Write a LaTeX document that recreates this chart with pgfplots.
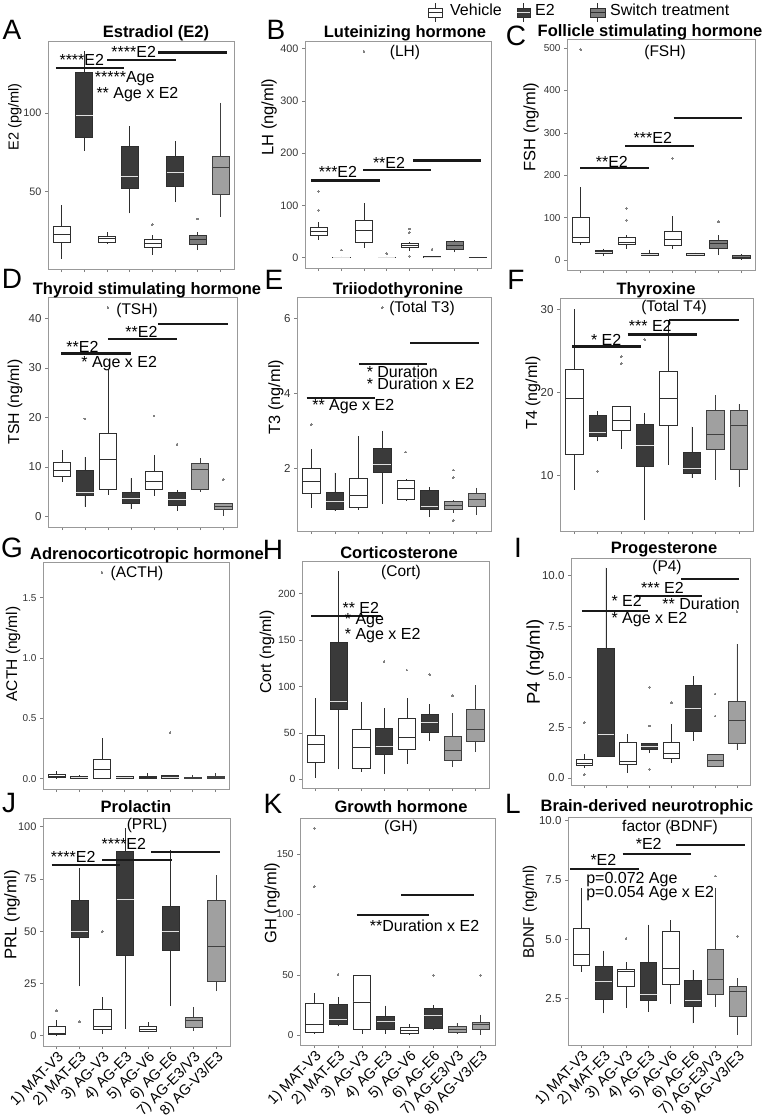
\documentclass[border=0pt]{standalone}
\usepackage{fontspec}
\setmainfont{Liberation Sans}
\usepackage{pgfplots}
\pgfplotsset{compat=1.18}
\usepgfplotslibrary{statistics}
\definecolor{eFill}{HTML}{3A3A3A}
\definecolor{sFill}{HTML}{A0A0A0}
\definecolor{sFillD}{HTML}{7C7C7C}
\definecolor{bDraw}{HTML}{2E2E2E}
\newcommand\fs[1]{\fontsize{#1}{#1}\selectfont}
\pgfplotsset{
  B/.style n args={6}{boxplot prepared={draw position=#1, lower whisker=#2, lower quartile=#3, median=#4, upper quartile=#5, upper whisker=#6}},
  outl/.style={mark=*, mark size=0.9pt, mark options={draw=black!50, fill=black!50, line width=0pt}},
  veh/.style={draw=bDraw, fill=white, line width=0.6pt, outl, boxplot/every box/.style={fill=white}, boxplot/every median/.style={draw=bDraw, line width=0.7pt}},
  est/.style={draw=bDraw, fill=eFill, line width=0.6pt, outl, boxplot/every box/.style={fill=eFill}, boxplot/every median/.style={draw=black!12, line width=0.7pt}},
  sw/.style={draw=black!75, fill=sFill, line width=0.6pt, outl, boxplot/every box/.style={fill=sFill}, boxplot/every median/.style={draw=black!75, line width=0.7pt}},
  swd/.style={draw=black!80, fill=sFillD, line width=0.6pt, outl, boxplot/every box/.style={fill=sFillD}, boxplot/every median/.style={draw=black!80, line width=0.7pt}},
  panel/.style={scale only axis, anchor=south west, xmin=0.4, xmax=8.6, xtick={1,...,8}, xticklabels={},
    tick align=outside, major tick length=3pt, tick pos=left,
    axis line style={draw=black!40, line width=0.7pt}, tick style={draw=black!50, line width=0.6pt},
    clip=false, boxplot/draw direction=y, boxplot/box extend=0.75, boxplot/whisker extend=0,
    yticklabel style={text=black!80}},
  tl/.style={yticklabel style={font=\fs{#1}}},
  bottomrow/.style={xticklabels={1) MAT-V3,2) MAT-E3,3) AG-V3,4) AG-E3,5) AG-V6,6) AG-E6,7) AG-E3/V3,8) AG-V3/E3},
    xticklabel style={rotate=45, anchor=north east, font=\fs{14.5}, inner sep=1pt, text=black}},
}
\tikzset{sig/.style={line width=2.1pt, black!90},
  ann/.style={anchor=west, inner sep=0pt, font=\fs{16}},
  ttl/.style={font=\fs{16.5}\bfseries, inner sep=0pt},
  sub/.style={font=\fs{15.5}, inner sep=0pt},
  lett/.style={font=\fs{28}, inner sep=0pt},
  ylab/.style={rotate=90, inner sep=0pt}}
\begin{document}
\begin{tikzpicture}
% ---------------- A ----------------
\begin{axis}[panel, tl=10.8, at={(48pt,-269pt)}, width=186pt, height=228pt, ymin=0.8, ymax=145.6, ytick={50,100}, yticklabels={50,100}]
\addplot[veh, B={1}{7.4}{17.7}{22.8}{28}{41.5}] coordinates {};
\addplot[est, B={2}{76}{84.5}{98.5}{125.5}{139}] coordinates {};
\addplot[veh, B={3}{16.6}{17.7}{20}{21.7}{24}] coordinates {};
\addplot[est, B={4}{36.2}{52}{59.6}{78.7}{91.5}] coordinates {};
\addplot[veh, B={5}{10}{14.3}{17}{19.6}{22.3}] coordinates {(5,29)};
\addplot[est, B={6}{43.2}{53.6}{62.3}{72.3}{82}] coordinates {};
\addplot[swd, B={7}{12.8}{16.6}{19.6}{22.5}{24}] coordinates {(7,32.6)};
\addplot[sw, B={8}{34}{48.5}{65.5}{72.3}{106.4}] coordinates {};
\draw[sig] (axis cs:0.75,128.7) -- (axis cs:3.77,128.7);
\draw[sig] (axis cs:3.01,133.4) -- (axis cs:6.03,133.4);
\draw[sig] (axis cs:5.27,138.3) -- (axis cs:8.29,138.3);
\node[ann] at (axis cs:0.9,133.6) {****E2};
\node[ann] at (axis cs:3.19,138.6) {****E2};
\node[ann] at (axis cs:2.46,121.7) {*****Age};
\node[ann] at (axis cs:2.53,111.7) {** Age x E2};
\end{axis}
% ---------------- B ----------------
\begin{axis}[panel, tl=10.8, at={(305pt,-268pt)}, width=186pt, height=227pt, ymin=-19.75, ymax=414.75, ytick={0,100,200,300,400}, yticklabels={0,100,200,300,400}]
\addplot[veh, B={1}{34}{43}{50}{59}{69}] coordinates {(1,91) (1,127)};
\addplot[est, B={2}{0}{0}{0.5}{1.5}{2}] coordinates {(2,14.6)};
\addplot[veh, B={3}{18}{30}{53}{72}{104}] coordinates {(3,395)};
\addplot[est, B={4}{0}{0}{0.5}{1.5}{2}] coordinates {(4,8)};
\addplot[veh, B={5}{13.4}{20}{24}{27.4}{30.5}] coordinates {(5,55) (5,48) (5,3)};
\addplot[est, B={6}{0}{0.5}{1}{2}{3}] coordinates {(6,16)};
\addplot[swd, B={7}{10}{16}{24}{30.5}{34}] coordinates {};
\addplot[swd, B={8}{0}{0}{0.3}{1}{1.5}] coordinates {};
\draw[sig] (axis cs:0.68,147.8) -- (axis cs:3.69,147.8);
\draw[sig] (axis cs:2.96,167.5) -- (axis cs:5.96,167.5);
\draw[sig] (axis cs:5.18,186) -- (axis cs:8.14,186);
\node[ann] at (axis cs:1.0,164) {***E2};
\node[ann] at (axis cs:3.39,182) {**E2};
\end{axis}
% ---------------- C ----------------
\begin{axis}[panel, tl=10, at={(567pt,-270pt)}, width=188pt, height=231pt, ymin=-23, ymax=521, ytick={0,100,200,300,400,500}, yticklabels={0,100,200,300,400,500}]
\addplot[veh, B={1}{35.4}{43}{53.5}{101}{173}] coordinates {(1,496)};
\addplot[est, B={2}{9.4}{15.7}{19.7}{23.6}{27.6}] coordinates {};
\addplot[veh, B={3}{27.6}{37}{43}{55}{59}] coordinates {(3,122) (3,94.5)};
\addplot[est, B={4}{9.4}{11.8}{14.2}{15.7}{25}] coordinates {};
\addplot[veh, B={5}{27.6}{35.4}{49}{68.5}{104}] coordinates {(5,240)};
\addplot[est, B={6}{9.4}{11.8}{14.2}{17.3}{18}] coordinates {};
\addplot[swd, B={7}{11.8}{27.6}{39}{47}{59}] coordinates {(7,90.5)};
\addplot[swd, B={8}{1.6}{4.7}{7.9}{12.6}{14}] coordinates {};
\draw[sig] (axis cs:0.97,218) -- (axis cs:3.98,218);
\draw[sig] (axis cs:2.94,269) -- (axis cs:5.95,269);
\draw[sig] (axis cs:5.05,334.6) -- (axis cs:8.03,334.6);
\node[ann] at (axis cs:1.65,232) {**E2};
\node[ann] at (axis cs:3.3,289) {***E2};
\end{axis}
% ---------------- D ----------------
\begin{axis}[panel, tl=11.5, at={(48pt,-527pt)}, width=189pt, height=230pt, ymin=-2.1, ymax=44.3, ytick={0,10,20,30,40}, yticklabels={0,10,20,30,40}]
\addplot[veh, B={1}{6.9}{8.1}{9.3}{10.9}{13.4}] coordinates {};
\addplot[est, B={2}{2}{4.2}{4.9}{9.3}{12}] coordinates {(2,19.7)};
\addplot[veh, B={3}{4.4}{5.5}{11.6}{16.8}{29.6}] coordinates {(3,42.2)};
\addplot[est, B={4}{1.5}{2.6}{3.6}{5}{7.7}] coordinates {};
\addplot[veh, B={5}{4.2}{5.6}{7.1}{9.1}{12.4}] coordinates {(5,20.3)};
\addplot[est, B={6}{1.2}{2.2}{3.4}{4.9}{5.4}] coordinates {(6,14.6)};
\addplot[sw, B={7}{5}{5.6}{9.5}{10.8}{11.8}] coordinates {};
\addplot[sw, B={8}{0.1}{1.5}{2}{2.7}{2.8}] coordinates {(8,7.5)};
\draw[sig] (axis cs:0.97,32.9) -- (axis cs:3.99,32.9);
\draw[sig] (axis cs:3.0,35.9) -- (axis cs:6.01,35.9);
\draw[sig] (axis cs:5.17,38.8) -- (axis cs:8.19,38.8);
\node[ann] at (axis cs:1.19,34.2) {**E2};
\node[ann] at (axis cs:3.75,37.3) {**E2};
\node[ann] at (axis cs:1.84,30.9) {* Age x E2};
\end{axis}
% ---------------- E ----------------
\begin{axis}[panel, tl=11.5, at={(297pt,-531pt)}, width=194pt, height=234pt, ymin=0.34, ymax=6.56, ytick={2,4,6}, yticklabels={2,4,6}]
\addplot[veh, B={1}{0.96}{1.35}{1.67}{2.0}{2.53}] coordinates {(1,3.17)};
\addplot[est, B={2}{0.87}{0.93}{1.14}{1.36}{1.89}] coordinates {};
\addplot[veh, B={3}{0.89}{0.98}{1.29}{1.75}{2.86}] coordinates {};
\addplot[est, B={4}{1.07}{1.89}{2.12}{2.53}{3.0}] coordinates {(4,6.28)};
\addplot[veh, B={5}{1.14}{1.18}{1.47}{1.69}{1.71}] coordinates {(5,2.44)};
\addplot[est, B={6}{0.71}{0.93}{1.0}{1.42}{1.51}] coordinates {};
\addplot[sw, B={7}{0.82}{0.93}{1.02}{1.14}{1.16}] coordinates {(7,1.96) (7,1.76) (7,0.62)};
\addplot[sw, B={8}{0.76}{1.0}{1.17}{1.33}{1.49}] coordinates {};
\draw[sig] (axis cs:0.81,3.88) -- (axis cs:3.68,3.88);
\draw[sig] (axis cs:3.02,4.77) -- (axis cs:5.91,4.77);
\draw[sig] (axis cs:5.19,5.33) -- (axis cs:8.1,5.33);
\node[ann] at (axis cs:1.04,3.64) {** Age x E2};
\node[ann] at (axis cs:3.34,4.58) {* Duration};
\node[ann] at (axis cs:3.34,4.25) {* Duration x E2};
\end{axis}
% ---------------- F ----------------
\begin{axis}[panel, tl=11.5, at={(560pt,-531pt)}, width=193pt, height=233pt, ymin=3.3, ymax=31.4, ytick={10,20,30}, yticklabels={10,20,30}]
\addplot[veh, B={1}{8.25}{12.5}{19.3}{22.8}{30.1}] coordinates {};
\addplot[est, B={2}{14.1}{14.7}{15.2}{17.2}{17.8}] coordinates {(2,10.5)};
\addplot[veh, B={3}{13.2}{15.4}{16.6}{18.4}{18.4}] coordinates {(3,24.3) (3,23.5)};
\addplot[est, B={4}{4.6}{11.1}{13.6}{16.2}{17.5}] coordinates {(4,26.4)};
\addplot[veh, B={5}{11.3}{16.1}{19.3}{22.6}{28.8}] coordinates {};
\addplot[est, B={6}{9.7}{10.2}{10.9}{12.8}{15.9}] coordinates {};
\addplot[sw, B={7}{9.5}{13.2}{15.0}{17.8}{19.7}] coordinates {};
\addplot[sw, B={8}{8.6}{10.7}{16.1}{17.8}{18.6}] coordinates {};
\draw[sig] (axis cs:0.92,25.55) -- (axis cs:3.86,25.55);
\draw[sig] (axis cs:3.27,27.0) -- (axis cs:6.24,27.0);
\draw[sig] (axis cs:5.02,28.8) -- (axis cs:8.0,28.8);
\node[ann] at (axis cs:1.71,26.4) {* E2};
\node[ann] at (axis cs:3.32,28.0) {*** E2};
\end{axis}
% ---------------- G ----------------
\begin{axis}[panel, tl=10, at={(43pt,-789pt)}, width=186pt, height=227pt, ymin=-0.0855, ymax=1.7955, ytick={0,0.5,1,1.5}, yticklabels={0.0,0.5,1.0,1.5}]
\addplot[veh, B={1}{0}{0.008}{0.022}{0.033}{0.063}] coordinates {};
\addplot[est, B={2}{0}{0}{0.014}{0.022}{0.028}] coordinates {};
\addplot[veh, B={3}{0}{0.006}{0.077}{0.157}{0.336}] coordinates {(3,1.71)};
\addplot[est, B={4}{0}{0.003}{0.012}{0.02}{0.022}] coordinates {};
\addplot[veh, B={5}{0}{0.003}{0.011}{0.019}{0.05}] coordinates {};
\addplot[est, B={6}{0}{0}{0.011}{0.028}{0.03}] coordinates {(6,0.38)};
\addplot[sw, B={7}{0}{0}{0.005}{0.014}{0.028}] coordinates {};
\addplot[sw, B={8}{0}{0.006}{0.014}{0.022}{0.047}] coordinates {};
\end{axis}
% ---------------- H ----------------
\begin{axis}[panel, tl=10.4, at={(302pt,-788pt)}, width=187pt, height=227pt, ymin=-9.3, ymax=235, ytick={0,50,100,150,200}, yticklabels={0,50,100,150,200}]
\addplot[veh, B={1}{1.8}{18.3}{37.6}{47}{88}] coordinates {};
\addplot[est, B={2}{10.8}{75.3}{83.5}{147.3}{224}] coordinates {};
\addplot[veh, B={3}{7.5}{11.8}{34}{53.8}{83.5}] coordinates {};
\addplot[est, B={4}{5.7}{26.9}{35.8}{54.8}{76.3}] coordinates {(4,127)};
\addplot[veh, B={5}{16.1}{32.6}{45.2}{65.6}{88}] coordinates {(5,117.6)};
\addplot[est, B={6}{41.2}{50.5}{60.9}{69.9}{80.6}] coordinates {(6,112.9)};
\addplot[sw, B={7}{12.9}{20}{31.5}{46.6}{71}] coordinates {(7,90)};
\addplot[sw, B={8}{29.7}{41.2}{54.1}{75.3}{101.4}] coordinates {};
\draw[sig] (axis cs:0.81,175.6) -- (axis cs:3.86,175.6);
\node[ann] at (axis cs:2.17,185) {** E2};
\node[ann] at (axis cs:2.27,170.6) {* Age};
\node[ann] at (axis cs:2.27,155.2) {* Age x E2};
\end{axis}
% ---------------- I ----------------
\begin{axis}[panel, tl=11.5, at={(571pt,-785pt)}, width=179pt, height=227pt, ymin=-0.35, ymax=10.88, ytick={0,2.5,5,7.5,10}, yticklabels={0.0,2.5,5.0,7.5,10.0}]
\addplot[veh, B={1}{0.51}{0.63}{0.71}{0.9}{1.2}] coordinates {(1,2.73) (1,0.16)};
\addplot[est, B={2}{1.07}{1.07}{2.14}{6.43}{10.4}] coordinates {};
\addplot[veh, B={3}{0.25}{0.67}{0.82}{1.78}{2.15}] coordinates {};
\addplot[est, B={4}{1.23}{1.4}{1.56}{1.69}{1.73}] coordinates {(4,4.49) (4,2.57) (4,0.43)};
\addplot[veh, B={5}{0.74}{0.99}{1.2}{1.74}{2.68}] coordinates {(5,3.72)};
\addplot[est, B={6}{1.83}{2.3}{3.45}{4.57}{5.03}] coordinates {};
\addplot[sw, B={7}{0.59}{0.59}{0.87}{1.15}{1.15}] coordinates {(7,4.15) (7,3.06)};
\addplot[sw, B={8}{1.37}{1.69}{2.85}{3.8}{6.63}] coordinates {(8,8.22)};
\draw[sig] (axis cs:0.9,8.27) -- (axis cs:3.95,8.27);
\draw[sig] (axis cs:3.4,9.01) -- (axis cs:6.42,9.01);
\draw[sig] (axis cs:5.46,9.84) -- (axis cs:8.11,9.84);
\node[ann] at (axis cs:2.25,8.77) {* E2};
\node[ann] at (axis cs:2.25,7.81) {* Age x E2};
\node[ann] at (axis cs:3.6,9.39) {*** E2};
\node[ann] at (axis cs:4.58,8.6) {** Duration};
\end{axis}
% ---------------- J ----------------
\begin{axis}[panel, bottomrow, tl=11, at={(43pt,-1046pt)}, width=187pt, height=228pt, ymin=-4.96, ymax=104.2, ytick={0,25,50,75,100}, yticklabels={0,25,50,75,100}]
\addplot[veh, B={1}{0}{0.8}{1.1}{4.7}{7.4}] coordinates {(1,11.9)};
\addplot[est, B={2}{23.6}{47}{49.8}{64.9}{80.2}] coordinates {(2,6.6)};
\addplot[veh, B={3}{0.8}{3}{4.3}{12.7}{18.5}] coordinates {(3,49.8)};
\addplot[est, B={4}{3.2}{38.6}{65.2}{88.4}{99.2}] coordinates {};
\addplot[veh, B={5}{1.6}{2.2}{3.2}{4.3}{6.3}] coordinates {};
\addplot[est, B={6}{14.1}{41}{49.8}{61.7}{88.9}] coordinates {};
\addplot[sw, B={7}{2.4}{4}{7.4}{9}{13.8}] coordinates {};
\addplot[sw, B={8}{21.2}{26.1}{42.6}{64.9}{76.7}] coordinates {};
\draw[sig] (axis cs:0.78,81.5) -- (axis cs:3.79,81.5);
\draw[sig] (axis cs:3.0,84.3) -- (axis cs:6.04,84.3);
\draw[sig] (axis cs:5.14,88) -- (axis cs:8.14,88);
\node[ann] at (axis cs:0.74,85.8) {****E2};
\node[ann] at (axis cs:2.96,91.8) {****E2};
\end{axis}
% ---------------- K ----------------
\begin{axis}[panel, bottomrow, tl=10, at={(300pt,-1045pt)}, width=195pt, height=227pt, ymin=-7.9, ymax=179.8, ytick={0,50,100,150}, yticklabels={0,50,100,150}]
\addplot[veh, B={1}{1.4}{2.5}{8.9}{26.8}{35.1}] coordinates {(1,171.3) (1,122.9)};
\addplot[est, B={2}{7.5}{8.9}{13.6}{25.5}{31.8}] coordinates {(2,50.4)};
\addplot[veh, B={3}{1.4}{4.7}{27.7}{49.8}{50.4}] coordinates {};
\addplot[est, B={4}{1.4}{5.3}{11.6}{15.8}{24.6}] coordinates {};
\addplot[veh, B={5}{0.6}{1.9}{4.2}{6.6}{9.4}] coordinates {};
\addplot[est, B={6}{4.7}{6.1}{16.3}{22.1}{24.9}] coordinates {(6,49.8)};
\addplot[sw, B={7}{1.4}{2.8}{5.3}{7.5}{10.2}] coordinates {};
\addplot[sw, B={8}{0.6}{5.3}{8.9}{11.1}{17.2}] coordinates {(8,49.8)};
\draw[sig] (axis cs:2.78,99.6) -- (axis cs:5.83,99.6);
\draw[sig] (axis cs:4.65,116.5) -- (axis cs:7.72,116.5);
\node[ann] at (axis cs:3.33,90.5) {**Duration x E2};
\end{axis}
% ---------------- L ----------------
\begin{axis}[panel, bottomrow, tl=11.5, at={(568pt,-1045pt)}, width=183pt, height=228pt, ymin=0.53, ymax=10.15, ytick={2.5,5,7.5,10}, yticklabels={2.5,5.0,7.5,10.0}]
\addplot[veh, B={1}{3.59}{3.91}{4.34}{5.47}{7.14}] coordinates {};
\addplot[est, B={2}{1.86}{2.46}{3.21}{3.84}{4.51}] coordinates {};
\addplot[veh, B={3}{2.1}{2.99}{3.63}{3.74}{4.03}] coordinates {(3,5.02)};
\addplot[est, B={4}{1.93}{2.4}{2.68}{4.03}{5.61}] coordinates {};
\addplot[veh, B={5}{2.25}{3.09}{3.77}{5.33}{5.82}] coordinates {(5,9.71)};
\addplot[est, B={6}{1.44}{2.17}{2.4}{3.24}{3.7}] coordinates {};
\addplot[sw, B={7}{2.15}{2.67}{3.28}{4.55}{7.17}] coordinates {(7,7.66)};
\addplot[sw, B={8}{0.97}{1.76}{2.81}{2.99}{3.35}] coordinates {(8,5.12)};
\draw[sig] (axis cs:0.51,7.97) -- (axis cs:3.58,7.97);
\draw[sig] (axis cs:2.85,8.58) -- (axis cs:5.93,8.58);
\draw[sig] (axis cs:5.26,8.96) -- (axis cs:8.33,8.96);
\node[ann] at (axis cs:1.4,8.33) {*E2};
\node[ann] at (axis cs:3.43,9.0) {*E2};
\node[ann] at (axis cs:1.21,7.52) {p=0.072 Age};
\node[ann] at (axis cs:1.21,6.91) {p=0.054 Age x E2};
\end{axis}
% ---------------- titles, letters, y labels ----------------
\node[lett] at (12pt,-30pt) {A};
\node[lett] at (276pt,-30pt) {B};
\node[lett] at (516pt,-36pt) {C};
\node[lett] at (12pt,-279pt) {D};
\node[lett] at (274pt,-280pt) {E};
\node[lett] at (516pt,-280pt) {F};
\node[lett] at (12pt,-548pt) {G};
\node[lett] at (273pt,-550pt) {H};
\node[lett] at (518pt,-548pt) {I};
\node[lett] at (9pt,-803pt) {J};
\node[lett] at (273pt,-804pt) {K};
\node[lett] at (513pt,-804pt) {L};
\node[ttl] at (156pt,-33pt) {Estradiol (E2)};
\node[ttl] at (405pt,-33pt) {Luteinizing hormone};
\node[sub] at (405pt,-52pt) {(LH)};
\node[ttl] at (650pt,-32pt) {Follicle stimulating hormone};
\node[sub] at (665pt,-52pt) {(FSH)};
\node[ttl] at (147pt,-290pt) {Thyroid stimulating hormone};
\node[sub] at (137pt,-310pt) {(TSH)};
\node[ttl] at (398pt,-290pt) {Triiodothyronine};
\node[sub] at (422pt,-308pt) {(Total T3)};
\node[ttl] at (656pt,-290pt) {Thyroxine};
\node[sub] at (674pt,-307pt) {(Total T4)};
\node[ttl] at (147pt,-555pt) {Adrenocorticotropic hormone};
\node[sub] at (137pt,-573pt) {(ACTH)};
\node[ttl] at (399pt,-553pt) {Corticosterone};
\node[sub] at (401pt,-572pt) {(Cort)};
\node[ttl] at (664pt,-550pt) {Progesterone};
\node[sub] at (667pt,-567pt) {(P4)};
\node[ttl] at (136pt,-807pt) {Prolactin};
\node[sub] at (147pt,-825pt) {(PRL)};
\node[ttl] at (401pt,-807pt) {Growth hormone};
\node[sub] at (401pt,-827pt) {(GH)};
\node[ttl] at (647pt,-807pt) {Brain-derived neurotrophic};
\node[sub] at (670pt,-827pt) {factor (BDNF)};
\node[ylab, font=\fs{14.5}] at (15pt,-117pt) {E2 (pg/ml)};
\node[ylab, font=\fs{16.5}] at (269pt,-117pt) {LH (ng/ml)};
\node[ylab, font=\fs{16.5}] at (531pt,-127pt) {FSH (ng/ml)};
\node[ylab, font=\fs{15.8}] at (15pt,-402pt) {TSH (ng/ml)};
\node[ylab, font=\fs{16.3}] at (276pt,-397pt) {T3 (ng/ml)};
\node[ylab, font=\fs{16}] at (533pt,-393pt) {T4 (ng/ml)};
\node[ylab, font=\fs{15.5}] at (13pt,-654pt) {ACTH (ng/ml)};
\node[ylab, font=\fs{15.8}] at (267pt,-652pt) {Cort (ng/ml)};
\node[ylab, font=\fs{18.5}] at (535pt,-662pt) {P4 (ng/ml)};
\node[ylab, font=\fs{16.8}] at (12pt,-915pt) {PRL (ng/ml)};
\node[ylab, font=\fs{16.5}] at (272pt,-903pt) {GH (ng/ml)};
\node[ylab, font=\fs{15.3}] at (530pt,-912pt) {BDNF (ng/ml)};
% ---------------- legend ----------------
\draw[bDraw, line width=0.6pt] (435pt,-3pt) -- (435pt,-22pt);
\filldraw[draw=bDraw, fill=white, line width=0.6pt] (428pt,-8pt) rectangle (442pt,-17pt);
\draw[bDraw, line width=0.6pt] (428pt,-12.5pt) -- (442pt,-12.5pt);
\node[anchor=west, inner sep=0pt, font=\fs{16}] at (450pt,-10pt) {Vehicle};
\draw[bDraw, line width=0.6pt] (523.5pt,-3pt) -- (523.5pt,-22pt);
\filldraw[draw=bDraw, fill=eFill, line width=0.6pt] (517pt,-8pt) rectangle (530pt,-17pt);
\draw[black!12, line width=0.6pt] (517.3pt,-12.5pt) -- (529.7pt,-12.5pt);
\node[anchor=west, inner sep=0pt, font=\fs{16}] at (535pt,-10pt) {E2};
\draw[bDraw, line width=0.6pt] (597.5pt,-3pt) -- (597.5pt,-22pt);
\filldraw[draw=bDraw, fill=sFillD, line width=0.6pt] (590pt,-8pt) rectangle (605pt,-17pt);
\draw[bDraw, line width=0.6pt] (590pt,-12.5pt) -- (605pt,-12.5pt);
\node[anchor=west, inner sep=0pt, font=\fs{16}] at (610pt,-10pt) {Switch treatment};
\pgfresetboundingbox
\useasboundingbox (0pt,0pt) rectangle (762pt,-1120pt);
\end{tikzpicture}
\end{document}
